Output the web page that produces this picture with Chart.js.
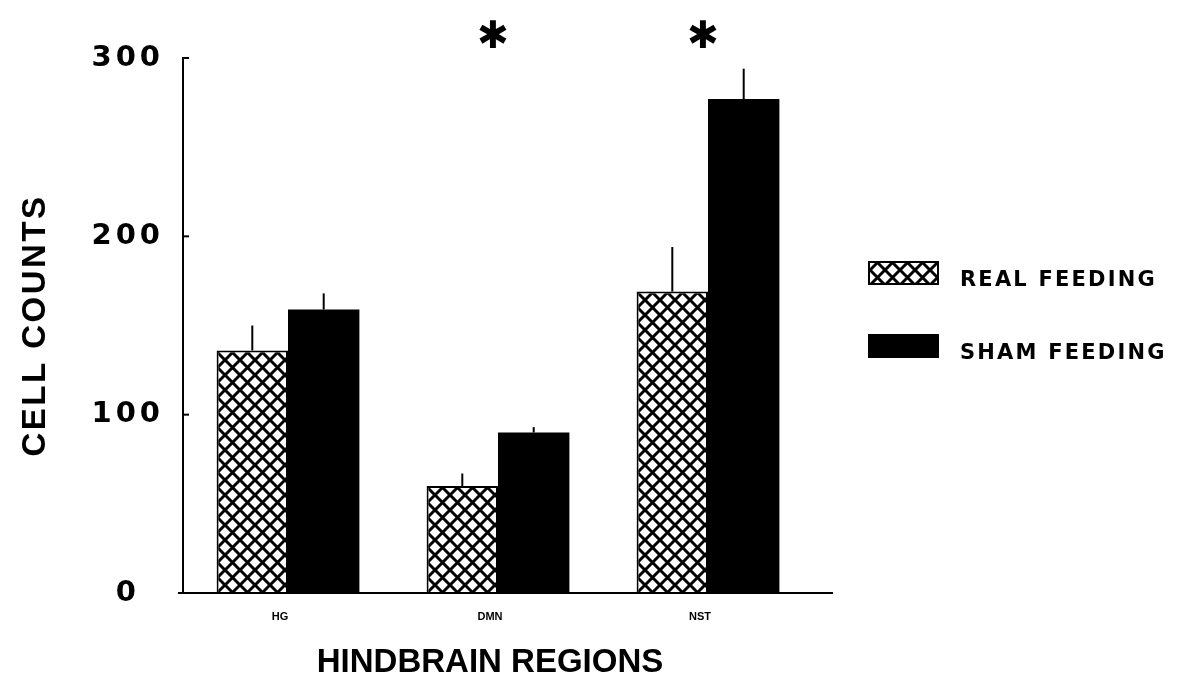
<!DOCTYPE html>
<html>
<head>
<meta charset="utf-8">
<script src="https://cdn.jsdelivr.net/npm/chart.js@4.4.1/dist/chart.umd.min.js"></script>
<style>
  html, body { margin: 0; padding: 0; background: #fff; }
  canvas { display: block; }
</style>
</head>
<body>
<canvas id="chart" width="1181" height="681"></canvas>
<script>
// Hindbrain cell counts, real vs sham feeding (mean + SEM)
const regions = ['HG', 'DMN', 'NST'];
const realFeeding = [136, 60, 169];
const realFeedingErr = [14, 7, 25];
const shamFeeding = [159, 90, 277];
const shamFeedingErr = [9, 3, 17];
const significant = [false, true, true];
const yTicks = [0, 100, 200, 300];
const seriesNames = ['REAL FEEDING', 'SHAM FEEDING'];
const xTitle = 'HINDBRAIN REGIONS';
const yTitle = 'CELL COUNTS';

// Cross-hatch fill for the real-feeding bars
function makeHatch() {
  const s = 15;
  const p = document.createElement('canvas');
  p.width = s; p.height = s;
  const c = p.getContext('2d');
  c.fillStyle = '#fff';
  c.fillRect(0, 0, s, s);
  c.strokeStyle = '#000';
  c.lineWidth = 3;
  c.beginPath();
  c.moveTo(-2, -2); c.lineTo(s + 2, s + 2);
  c.moveTo(s + 2, -2); c.lineTo(-2, s + 2);
  c.stroke();
  return document.getElementById('chart').getContext('2d').createPattern(p, 'repeat');
}
const hatch = makeHatch();

// Wrap a scale draw method so its text is drawn with extra letter spacing
function spaced(scale, name, spacing, dx) {
  const orig = scale[name].bind(scale);
  scale[name] = function (arg) {
    const ctx = this.ctx;
    ctx.save();
    ctx.letterSpacing = spacing + 'px';
    ctx.translate(dx || 0, 0);
    orig(arg);
    ctx.restore();
  };
}

const extras = {
  id: 'extras',
  afterLayout(chart) {
    if (chart.$spaced) return;
    chart.$spaced = true;
    spaced(chart.scales.y, 'drawLabels', 4, 0);
    spaced(chart.scales.y, 'drawTitle', 2.5, 0);
    spaced(chart.scales.x, 'drawTitle', 0, -8);
  },
  afterDatasetsDraw(chart) {
    const { ctx, chartArea: a, scales: { x, y } } = chart;
    ctx.save();
    ctx.strokeStyle = '#000';
    ctx.fillStyle = '#000';

    // error bars (upper half, no caps)
    ctx.lineWidth = 2;
    chart.data.datasets.forEach((ds, i) => {
      const meta = chart.getDatasetMeta(i);
      meta.data.forEach((bar, j) => {
        const top = y.getPixelForValue(ds.data[j] + ds.errors[j]);
        ctx.beginPath();
        ctx.moveTo(bar.x, bar.y);
        ctx.lineTo(bar.x, top);
        ctx.stroke();
      });
    });

    // x axis line, running past the last group
    const y0 = y.getPixelForValue(0);
    ctx.lineWidth = 2;
    ctx.beginPath();
    ctx.moveTo(a.left - 5, y0);
    ctx.lineTo(a.right + 20, y0);
    ctx.stroke();

    // inward tick marks on the y axis
    yTicks.forEach(v => {
      if (v === 0) return;
      const py = y.getPixelForValue(v);
      ctx.beginPath();
      ctx.moveTo(a.left, py);
      ctx.lineTo(a.left + 6, py);
      ctx.stroke();
    });

    // significance markers
    ctx.font = 'bold 38px "DejaVu Sans", sans-serif';
    ctx.textAlign = 'center';
    ctx.textBaseline = 'middle';
    significant.forEach((sig, j) => {
      if (!sig) return;
      ctx.fillText('\u2731', x.getPixelForValue(j) - 5, 38);
    });

    // legend
    const lx = a.right + 55;
    const rows = [261, 334];
    ctx.font = 'bold 21px "DejaVu Sans", sans-serif';
    ctx.letterSpacing = '2.2px';
    ctx.textAlign = 'left';
    ctx.textBaseline = 'middle';
    chart.data.datasets.forEach((ds, i) => {
      const ty = rows[i];
      ctx.fillStyle = ds.backgroundColor;
      ctx.fillRect(lx, ty, 71, 24);
      ctx.lineWidth = 2;
      ctx.strokeStyle = '#000';
      ctx.strokeRect(lx + 1, ty + 1, 69, 22);
      ctx.fillStyle = '#000';
      ctx.fillText(ds.label, lx + 92, ty + 20);
    });
    ctx.restore();
  }
};

new Chart(document.getElementById('chart'), {
  type: 'bar',
  data: {
    labels: regions,
    datasets: [
      {
        label: seriesNames[0],
        data: realFeeding,
        errors: realFeedingErr,
        backgroundColor: hatch,
        borderColor: '#000',
        borderWidth: 2,
        borderSkipped: 'bottom'
      },
      {
        label: seriesNames[1],
        data: shamFeeding,
        errors: shamFeedingErr,
        backgroundColor: '#000',
        borderColor: '#000',
        borderWidth: 0
      }
    ]
  },
  options: {
    responsive: false,
    devicePixelRatio: 1,
    animation: false,
    events: [],
    layout: { padding: { left: 0, top: 58, right: 368, bottom: 0 } },
    categoryPercentage: 0.68,
    barPercentage: 1.0,
    plugins: { legend: { display: false }, tooltip: { enabled: false } },
    scales: {
      x: {
        grid: { display: false, drawTicks: false },
        border: { display: false },
        ticks: {
          color: '#000',
          padding: 17,
          labelOffset: -8,
          font: { family: '"Liberation Sans", Arial, sans-serif', size: 11, weight: 'bold' }
        },
        title: {
          display: true,
          text: xTitle,
          color: '#000',
          padding: { top: 0, bottom: 2 },
          font: { family: '"Liberation Sans", Arial, sans-serif', size: 33, weight: 'bold', lineHeight: 1 }
        },
        afterFit(s) { s.height = 88; }
      },
      y: {
        min: 0,
        max: 300,
        afterBuildTicks(s) { s.ticks = yTicks.map(v => ({ value: v })); },
        grid: { display: false, drawTicks: false },
        border: { display: true, color: '#000', width: 2 },
        ticks: {
          color: '#000',
          padding: 25,
          crossAlign: 'center',
          font: { family: '"DejaVu Sans", sans-serif', size: 29, weight: 'bold' }
        },
        title: {
          display: true,
          text: yTitle,
          color: '#000',
          padding: { top: 19, bottom: 0 },
          font: { family: '"Liberation Sans", Arial, sans-serif', size: 33, weight: 'bold', lineHeight: 1 }
        },
        afterFit(s) { s.width = 183; }
      }
    }
  },
  plugins: [extras]
});
</script>
</body>
</html>
